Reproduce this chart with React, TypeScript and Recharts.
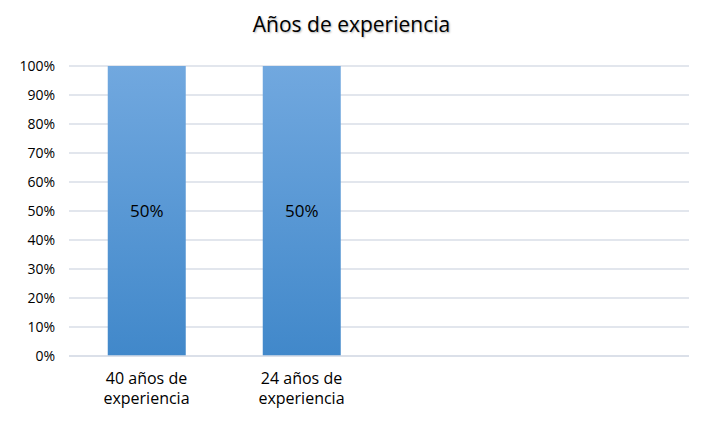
import { Bar, BarChart, CartesianGrid, LabelList, XAxis, YAxis } from "recharts";

const categories = ["40 años de experiencia", "24 años de experiencia", "", ""];
const shares = [50, 50, null, null];
const yTicks = [0, 0.1, 0.2, 0.3, 0.4, 0.5, 0.6, 0.7, 0.8, 0.9, 1];

const data = categories.map((name, i) => ({ name, share: shares[i] }));

const FONT = "'Open Sans', 'DejaVu Sans', sans-serif";

function CategoryTick({ x, y, payload }: any) {
  const text: string = payload.value || "";
  if (!text) return null;
  const cut = text.lastIndexOf(" ");
  const lines = [text.slice(0, cut), text.slice(cut + 1)];
  return (
    <text x={x} y={y} textAnchor="middle" fill="#000" fontSize={16} fontFamily={FONT}>
      {lines.map((line, i) => (
        <tspan key={i} x={x} dy={i === 0 ? 20 : 20}>
          {line}
        </tspan>
      ))}
    </text>
  );
}

export default function App() {
  return (
    <div
      style={{
        position: "fixed",
        top: 0,
        left: 0,
        width: 703,
        height: 425,
        background: "#fff",
        fontFamily: FONT,
      }}
    >
      <div
        style={{
          position: "absolute",
          top: 10,
          width: 703,
          textAlign: "center",
          fontSize: 21,
          color: "#000",
          textShadow: "1px 1px 2px rgba(0,0,0,0.3)",
        }}
      >
        Años de experiencia
      </div>
      <BarChart
        width={703}
        height={425}
        data={data}
        stackOffset="expand"
        barCategoryGap="25%"
        margin={{ top: 66, right: 14, left: 0, bottom: 39 }}
      >
        <defs>
          <linearGradient id="barFill" x1="0" y1="0" x2="0" y2="1">
            <stop offset="0%" stopColor="#71A8DF" />
            <stop offset="100%" stopColor="#4188CA" />
          </linearGradient>
        </defs>
        <CartesianGrid vertical={false} stroke="#D9DEE7" strokeWidth={1.5} />
        <XAxis
          dataKey="name"
          tick={<CategoryTick />}
          tickLine={false}
          axisLine={{ stroke: "#D9DEE7", strokeWidth: 1.5 }}
          interval={0}
        />
        <YAxis
          width={69}
          domain={[0, 1]}
          ticks={yTicks}
          tickFormatter={(v: number) => `${Math.round(v * 100)}%`}
          tickLine={false}
          axisLine={false}
          tickMargin={8}
          tick={{ fill: "#000", fontSize: 14, fontFamily: FONT }}
        />
        <Bar dataKey="share" stackId="a" fill="url(#barFill)" isAnimationActive={false}>
          <LabelList
            dataKey="share"
            position="center"
            formatter={(v: any) => (v ? `${v}%` : "")}
            fill="#000"
            fontSize={17}
            fontFamily={FONT}
          />
        </Bar>
      </BarChart>
    </div>
  );
}
